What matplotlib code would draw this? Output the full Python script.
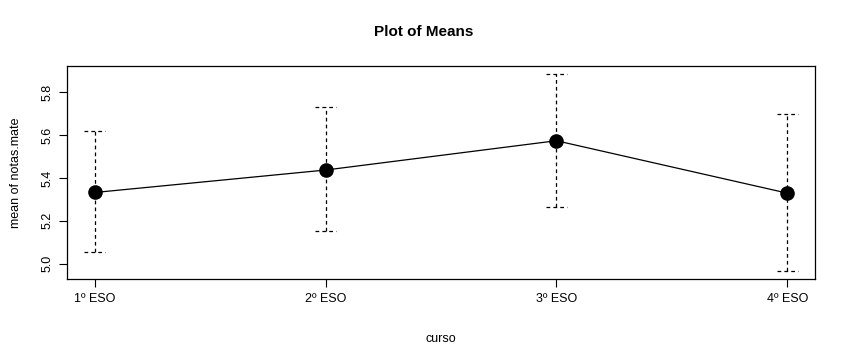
import numpy as np
import matplotlib
matplotlib.use("Agg")
import matplotlib.pyplot as plt

# data
cursos = ["1º ESO", "2º ESO", "3º ESO", "4º ESO"]
means = [5.332, 5.437, 5.574, 5.329]
upper = [5.619, 5.730, 5.887, 5.698]
lower = [5.053, 5.150, 5.265, 4.964]

plt.rcParams["font.family"] = ["Liberation Sans", "DejaVu Sans"]
plt.rcParams["font.size"] = 9

fig = plt.figure(figsize=(8.48, 3.62), dpi=100)
ax = fig.add_axes([0.079, 0.229, 0.882, 0.589])

x = np.arange(1, len(cursos) + 1)
m = np.array(means)
dash = (0, (3, 2.5))

# error bars, dashed like R lty=2
ax.vlines(x, lower, upper, colors="black", linewidth=0.9, linestyles=dash)
ax.hlines(upper, x - 0.045, x + 0.045, colors="black", linewidth=0.9,
          linestyles=dash)
ax.hlines(lower, x - 0.045, x + 0.045, colors="black", linewidth=0.9,
          linestyles=dash)

ax.plot(x, m, color="black", linewidth=0.9, marker="o", markersize=9.5,
        markerfacecolor="black", markeredgecolor="black")

# R style limits (4% padding)
ax.set_xlim(1 - 0.12, 4 + 0.12)
ylo, yhi = min(lower), max(upper)
pad = (yhi - ylo) * 0.04
ax.set_ylim(ylo - pad, yhi + pad)

ax.set_xticks(x)
ax.set_xticklabels(cursos)
ax.set_yticks([5.0, 5.2, 5.4, 5.6, 5.8])
ax.set_yticklabels(["5.0", "5.2", "5.4", "5.6", "5.8"], rotation=90, va="center")
ax.tick_params(direction="out", length=6, width=0.8, pad=4)
for s in ax.spines.values():
    s.set_linewidth(0.9)

ax.set_xlabel("curso", labelpad=20)
ax.set_ylabel("mean of notas.mate", labelpad=14)
fig.suptitle("Plot of Means", fontsize=11, fontweight="bold", y=0.93)

fig.savefig("out.png", dpi=100)
